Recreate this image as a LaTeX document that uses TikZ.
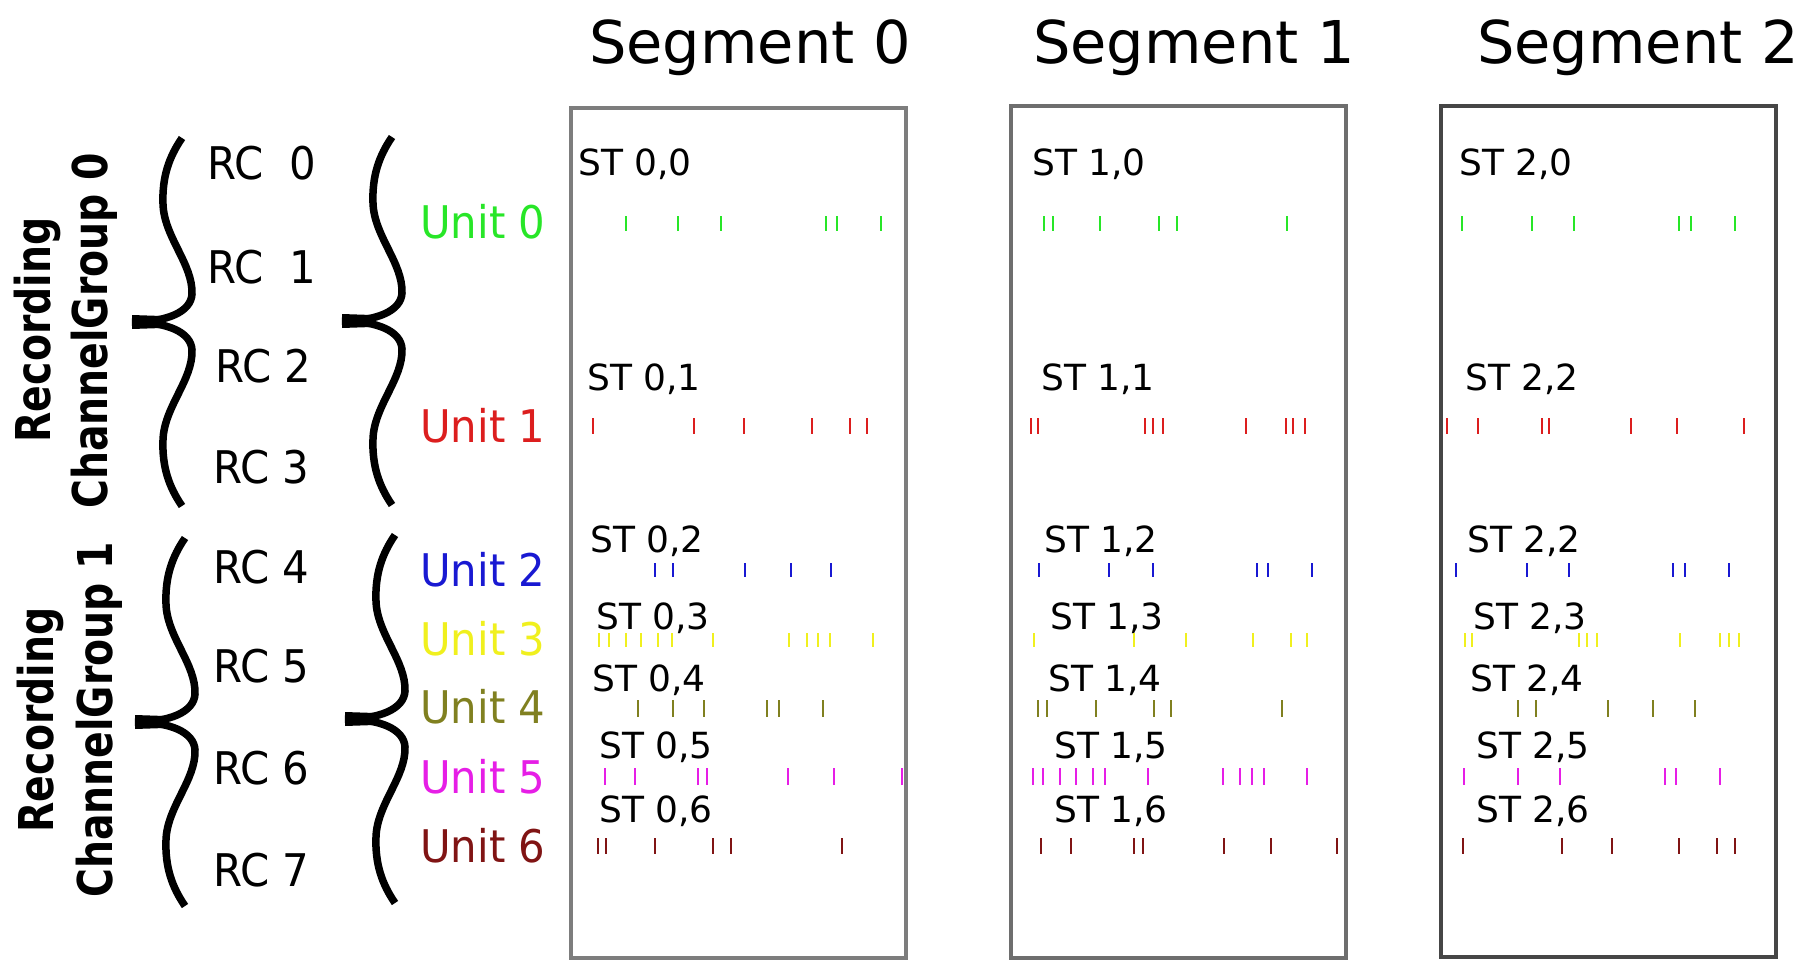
\documentclass[tikz,border=0pt]{standalone}
\usepackage{fontspec}
\setmainfont{DejaVu Sans}
\definecolor{ugreen}{RGB}{40,230,40}
\definecolor{ured}{RGB}{220,30,30}
\definecolor{ublue}{RGB}{25,25,210}
\definecolor{uyellow}{RGB}{240,240,30}
\definecolor{uolive}{RGB}{128,128,32}
\definecolor{umagenta}{RGB}{230,30,230}
\definecolor{udarkred}{RGB}{128,20,20}
\definecolor{boxgrayA}{RGB}{125,125,125}
\definecolor{boxgrayB}{RGB}{110,110,110}
\definecolor{boxgrayC}{RGB}{70,70,70}
\newcommand{\spiketrain}[4]{\foreach \sx in {#4}{\draw[spike,#1] (\sx,#2) -- (\sx,#3);}}
\newcommand{\sidetext}[1]{\scalebox{0.93}[1]{#1}}
\newcommand{\grouptext}[1]{\scalebox{0.82}[1]{\bfseries #1}}
\begin{document}
\begin{tikzpicture}[x=1pt,y=-1pt,
  title/.style={font=\fontsize{59}{59}\selectfont, inner sep=0pt, anchor=base},
  stlabel/.style={font=\fontsize{36}{36}\selectfont, inner sep=0pt, anchor=base west},
  sidelabel/.style={font=\fontsize{45}{45}\selectfont, inner sep=0pt, anchor=base west},
  grouplabel/.style={font=\fontsize{48}{48}\selectfont, inner sep=0pt, anchor=base, rotate=90},
  spike/.style={line width=2.5pt},
  segbox/.style={line width=4.5pt},
  curlybrace/.pic={
    \draw[line width=7.5pt] (50,-184) .. controls (37,-165) and (30,-145) .. (31,-118)
      .. controls (32,-85) and (61,-58) .. (60,-28)
      .. controls (59,-10) and (35,0) .. (0,0)
      .. controls (35,0) and (59,10) .. (60,28)
      .. controls (61,58) and (32,85) .. (31,118)
      .. controls (30,145) and (37,165) .. (50,184);
    \fill (0,-7) -- (30,-6) -- (30,6) -- (0,7) -- cycle;
  }]
\useasboundingbox (0,0) rectangle (1814,960);

% segment boxes
\draw[segbox, boxgrayA] (571,108) rectangle (906,958);
\draw[segbox, boxgrayB] (1011,106) rectangle (1346,958);
\draw[segbox, boxgrayC] (1441,106) rectangle (1776,957);

% titles
\node[title] (seg0) at (750,64) {Segment 0};
\node[title] (seg1) at (1194,64) {Segment 1};
\node[title] (seg2) at (1638,64) {Segment 2};

% group labels
\node[grouplabel] (g0a) at (50,330) {\grouptext{Recording}};
\node[grouplabel] (g0b) at (107,331) {\grouptext{ChannelGroup 0}};
\node[grouplabel] (g1a) at (53,720) {\grouptext{Recording}};
\node[grouplabel] (g1b) at (112,720) {\grouptext{ChannelGroup 1}};

% braces
\pic at (132,322) {curlybrace};
\pic at (342,321) {curlybrace};
\pic at (135,722) {curlybrace};
\pic at (345,719) {curlybrace};

% recording channels
\node[sidelabel] (rc0) at (207,180) {\sidetext{RC~~0}};
\node[sidelabel] (rc1) at (207,283) {\sidetext{RC~~1}};
\node[sidelabel] (rc2) at (215,382) {\sidetext{RC 2}};
\node[sidelabel] (rc3) at (213,483) {\sidetext{RC 3}};
\node[sidelabel] (rc4) at (213,583) {\sidetext{RC 4}};
\node[sidelabel] (rc5) at (213,682) {\sidetext{RC 5}};
\node[sidelabel] (rc6) at (213,784) {\sidetext{RC 6}};
\node[sidelabel] (rc7) at (213,886) {\sidetext{RC 7}};

% units
\node[sidelabel, text=ugreen] (u0) at (420,238) {\sidetext{Unit 0}};
\node[sidelabel, text=ured] (u1) at (420,442) {\sidetext{Unit 1}};
\node[sidelabel, text=ublue] (u2) at (420,586) {\sidetext{Unit 2}};
\node[sidelabel, text=uyellow] (u3) at (420,655) {\sidetext{Unit 3}};
\node[sidelabel, text=uolive] (u4) at (420,723) {\sidetext{Unit 4}};
\node[sidelabel, text=umagenta] (u5) at (420,793) {\sidetext{Unit 5}};
\node[sidelabel, text=udarkred] (u6) at (420,862) {\sidetext{Unit 6}};

% spike train labels, segment 0
\node[stlabel] (st00) at (578,176) {ST 0,0};
\node[stlabel] (st01) at (587,390) {ST 0,1};
\node[stlabel] (st02) at (590,552) {ST 0,2};
\node[stlabel] (st03) at (596,629) {ST 0,3};
\node[stlabel] (st04) at (592,691) {ST 0,4};
\node[stlabel] (st05) at (599,758) {ST 0,5};
\node[stlabel] (st06) at (599,822) {ST 0,6};
% segment 1
\node[stlabel] (st10) at (1032,176) {ST 1,0};
\node[stlabel] (st11) at (1041,390) {ST 1,1};
\node[stlabel] (st12) at (1044,552) {ST 1,2};
\node[stlabel] (st13) at (1050,629) {ST 1,3};
\node[stlabel] (st14) at (1048,691) {ST 1,4};
\node[stlabel] (st15) at (1054,758) {ST 1,5};
\node[stlabel] (st16) at (1054,822) {ST 1,6};
% segment 2
\node[stlabel] (st20) at (1459,176) {ST 2,0};
\node[stlabel] (st21) at (1465,390) {ST 2,2};
\node[stlabel] (st22) at (1467,552) {ST 2,2};
\node[stlabel] (st23) at (1473,629) {ST 2,3};
\node[stlabel] (st24) at (1470,691) {ST 2,4};
\node[stlabel] (st25) at (1476,758) {ST 2,5};
\node[stlabel] (st26) at (1476,822) {ST 2,6};

% spikes, segment 0
\spiketrain{ugreen}{216}{231}{626,678,721,826,837,881}
\spiketrain{ured}{418}{434}{593,694,744,812,850,867}
\spiketrain{ublue}{563}{577}{655,673,745,791,831}
\spiketrain{uyellow}{633}{647}{599,609,626,641,658,672,713,789,807,818,830,873}
\spiketrain{uolive}{700}{717}{638,673,704,767,779,823}
\spiketrain{umagenta}{768}{785}{605,635,698,707,788,834,902}
\spiketrain{udarkred}{838}{854}{598,606,655,713,731,842}
% spikes, segment 1
\spiketrain{ugreen}{216}{231}{1044,1053,1100,1159,1177,1287}
\spiketrain{ured}{418}{434}{1031,1038,1145,1153,1163,1246,1286,1293,1305}
\spiketrain{ublue}{563}{577}{1039,1109,1153,1257,1268,1312}
\spiketrain{uyellow}{633}{647}{1034,1134,1186,1253,1291,1307}
\spiketrain{uolive}{700}{717}{1038,1047,1096,1154,1171,1282}
\spiketrain{umagenta}{768}{785}{1033,1043,1060,1076,1093,1105,1148,1223,1240,1252,1264,1307}
\spiketrain{udarkred}{838}{854}{1041,1071,1134,1143,1224,1271,1337}
% spikes, segment 2
\spiketrain{ugreen}{216}{231}{1462,1532,1574,1679,1691,1735}
\spiketrain{ured}{418}{434}{1447,1478,1542,1549,1631,1677,1744}
\spiketrain{ublue}{563}{577}{1456,1527,1569,1673,1685,1729}
\spiketrain{uyellow}{633}{647}{1465,1472,1579,1587,1597,1680,1720,1729,1739}
\spiketrain{uolive}{700}{717}{1518,1536,1608,1653,1695}
\spiketrain{umagenta}{768}{785}{1464,1518,1560,1665,1676,1720}
\spiketrain{udarkred}{838}{854}{1463,1562,1612,1679,1717,1735}
\end{tikzpicture}
\end{document}
